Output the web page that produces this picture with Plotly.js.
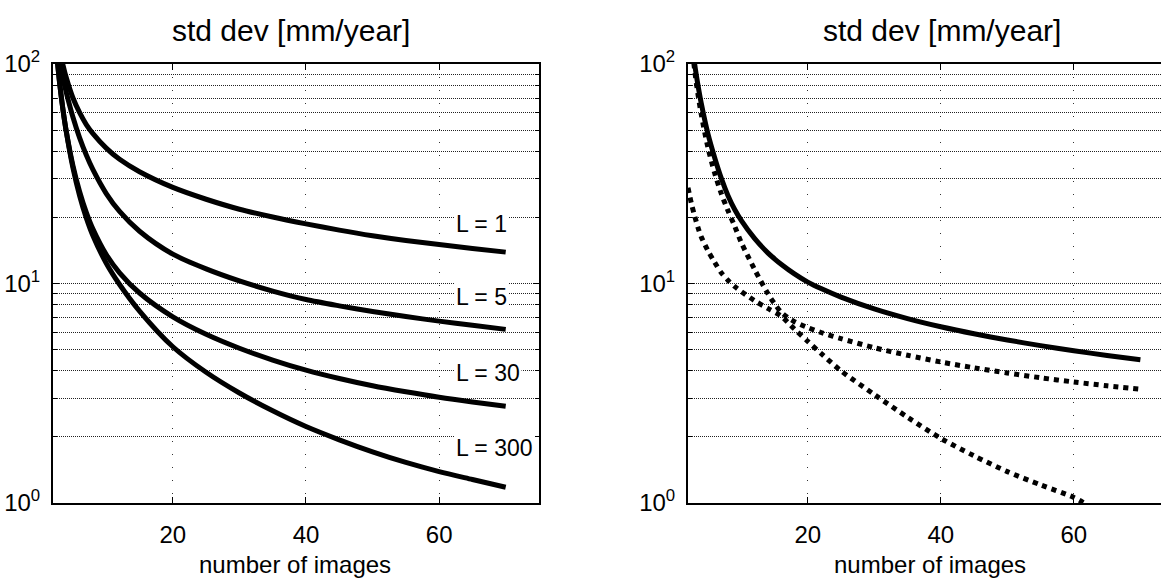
<!DOCTYPE html>
<html>
<head>
<meta charset="utf-8">
<script src="https://cdn.plot.ly/plotly-3.0.1.min.js"></script>
<style>
  html, body { margin: 0; padding: 0; background: #fff; }
  #chart { width: 1161px; height: 578px; }
</style>
</head>
<body>
<div id="chart"></div>
<script>
// ---- data ----
const nImagesLeft = [2.5, 3, 3.5, 4, 5, 6, 7, 8, 10, 12, 15, 20, 25, 30, 35, 40, 45, 50, 55, 60, 65, 70];
const stdL1   = [146, 117, 99, 86.5, 70, 60, 53, 48.2, 41.4, 36.8, 32.3, 27.4, 24.2, 21.8, 20.1, 18.7, 17.5, 16.5, 15.7, 15.05, 14.45, 13.9];
const stdL5   = [119.8, 100.6, 85.7, 74.1, 57.2, 46.1, 38.5, 33.0, 25.7, 21.3, 17.3, 13.6, 11.65, 10.27, 9.24, 8.45, 7.91, 7.46, 7.07, 6.74, 6.45, 6.18];
const stdL30  = [115, 81.5, 61.7, 49.2, 34.4, 26.2, 21.1, 17.7, 13.55, 11.19, 9.05, 7.05, 5.87, 5.07, 4.48, 4.03, 3.69, 3.42, 3.21, 3.03, 2.885, 2.76];
const stdL300 = [115.7, 81.8, 62, 49.1, 33.6, 25.1, 19.9, 16.5, 12.37, 9.9, 7.49, 5.15, 3.94, 3.17, 2.63, 2.23, 1.94, 1.71, 1.53, 1.39, 1.28, 1.18];

const nImagesSolid = [2, 2.5, 3, 3.5, 4, 5, 6, 7, 8, 9, 10, 12, 14, 15, 16, 18, 20, 22, 25, 30, 35, 40, 45, 50, 55, 60, 65, 70];
const stdSolid     = [200, 135, 100, 80, 66, 48, 37.5, 30.2, 25.2, 21.8, 19.4, 16.05, 13.79, 12.96, 12.24, 11.06, 10.15, 9.48, 8.67, 7.66, 6.92, 6.35, 5.9, 5.53, 5.21, 4.94, 4.70, 4.49];
const nImagesA     = [2, 2.5, 3, 3.5, 4, 5, 6, 7, 8, 9, 10, 12, 14, 15, 16, 17, 18, 20, 22, 25, 30, 35, 40, 45, 50, 55, 60, 65, 70];
const stdDottedA   = [189, 128, 93.9, 72.8, 58.8, 41.6, 31.9, 25.7, 21.5, 18.3, 15.4, 11.6, 9.0, 8.1, 7.4, 7.0, 6.7, 6.3, 5.98, 5.61, 5.1, 4.71, 4.39, 4.13, 3.91, 3.72, 3.56, 3.42, 3.30];
const nImagesB     = [2, 2.5, 3, 3.5, 4, 5, 6, 7, 8, 9, 10, 12, 14, 16, 18, 20, 22, 25, 30, 35, 40, 45, 50, 55, 60, 62];
const stdDottedB   = [27.3, 23.2, 20.3, 18.0, 16.3, 14.1, 12.5, 11.2, 10.35, 9.7, 9.2, 8.35, 7.7, 7.1, 6.2, 5.45, 4.8, 4.0, 3.12, 2.46, 1.97, 1.64, 1.39, 1.21, 1.06, 0.98];

const xTicks = [20, 40, 60];
const yMajor = [1, 10, 100];
const yMajorText = ['10<sup>0</sup>', '10<sup>1</sup>', '10<sup>2</sup>'];
const yMinor = [2, 3, 4, 5, 6, 7, 8, 9, 20, 30, 40, 50, 60, 70, 80, 90];

const curveLabels = ['L = 1', 'L = 5', 'L = 30', 'L = 300'];
const curveLabelY = [18.7, 8.68, 3.91, 1.78];

const titleText = 'std dev [mm/year]';
const xTitleText = 'number of images';

// ---- styles ----
const font = '"Liberation Sans", Arial, Helvetica, sans-serif';
const thick = 5;

function line(x, y, xa, ya, dash) {
  return { x: x, y: y, xaxis: xa, yaxis: ya, type: 'scatter', mode: 'lines',
    line: { color: '#000', width: thick, shape: 'spline', smoothing: 0.8, dash: dash || 'solid' },
    hoverinfo: 'skip', showlegend: false };
}

const traces = [
  line(nImagesLeft, stdL1, 'x', 'y'),
  line(nImagesLeft, stdL5, 'x', 'y'),
  line(nImagesLeft, stdL30, 'x', 'y'),
  line(nImagesLeft, stdL300, 'x', 'y'),
  line(nImagesSolid, stdSolid, 'x2', 'y2'),
  line(nImagesA, stdDottedA, 'x2', 'y2', '5px,5px'),
  line(nImagesB, stdDottedB, 'x2', 'y2', '5px,5px')
];

function xAxis(domain, range, anchor) {
  return { domain: domain, range: range, anchor: anchor,
    tickmode: 'array', tickvals: xTicks, ticktext: xTicks.map(String),
    ticks: 'inside', ticklen: 6, tickwidth: 1, tickcolor: '#000',
    showline: true, linecolor: '#000', linewidth: 2, mirror: 'allticks',
    showgrid: true, gridcolor: '#333', gridwidth: 1, griddash: '1px,12px',
    zeroline: false, ticklabelstandoff: 9,
    tickfont: { family: font, size: 24, color: '#000' }, fixedrange: true };
}
function yAxis(anchor, mirror) {
  return { type: 'log', range: [0, 2], domain: [0, 1], anchor: anchor,
    tickmode: 'array', tickvals: yMajor, ticktext: yMajorText,
    ticks: 'inside', ticklen: 6, tickwidth: 1, tickcolor: '#000',
    minor: { tickmode: 'array', tickvals: yMinor, ticks: 'inside', ticklen: 4, tickcolor: '#000',
             showgrid: true, gridcolor: '#222', gridwidth: 1, griddash: '1px,1px' },
    showline: true, linecolor: '#000', linewidth: 2, mirror: mirror,
    showgrid: true, gridcolor: '#222', gridwidth: 1, griddash: '1px,1px',
    zeroline: false, ticklabelstandoff: 6,
    tickfont: { family: font, size: 24, color: '#000' }, fixedrange: true };
}

const FIG_H = 578, PLOT_TOP = 64, PLOT_BOTTOM = 503, PLOT_H = PLOT_BOTTOM - PLOT_TOP;
const py = p => (PLOT_BOTTOM - p) / PLOT_H; // pixel y -> paper y

const annotations = [
  { text: titleText, xref: 'paper', yref: 'paper', x: 291 / 1161, y: py(30), xanchor: 'center', yanchor: 'middle', showarrow: false, font: { family: font, size: 30, color: '#000' } },
  { text: titleText, xref: 'paper', yref: 'paper', x: 942 / 1161, y: py(30), xanchor: 'center', yanchor: 'middle', showarrow: false, font: { family: font, size: 30, color: '#000' } },
  { text: xTitleText, xref: 'paper', yref: 'paper', x: 295 / 1161, y: py(564), xanchor: 'center', yanchor: 'middle', showarrow: false, font: { family: font, size: 24, color: '#000' } },
  { text: xTitleText, xref: 'paper', yref: 'paper', x: 930 / 1161, y: py(564), xanchor: 'center', yanchor: 'middle', showarrow: false, font: { family: font, size: 24, color: '#000' } }
];
curveLabels.forEach((t, i) => {
  annotations.push({ text: t, xref: 'x', yref: 'y', x: 62.3, y: Math.log10(curveLabelY[i]),
    xanchor: 'left', yanchor: 'middle', showarrow: false, bgcolor: '#fff', borderpad: 1,
    font: { family: font, size: 23, color: '#000' } });
});

const layout = {
  width: 1161, height: FIG_H,
  margin: { l: 0, r: 0, t: PLOT_TOP, b: FIG_H - PLOT_BOTTOM, pad: 0 },
  paper_bgcolor: '#fff', plot_bgcolor: '#fff',
  showlegend: false,
  xaxis: xAxis([53 / 1161, 539 / 1161], [2, 75], 'y'),
  yaxis: yAxis('x', 'allticks'),
  xaxis2: xAxis([688 / 1161, 1], [2, 73.1], 'y2'),
  yaxis2: yAxis('x2', false),
  annotations: annotations
};

Plotly.newPlot('chart', traces, layout, { staticPlot: true, displayModeBar: false });
</script>
</body>
</html>
